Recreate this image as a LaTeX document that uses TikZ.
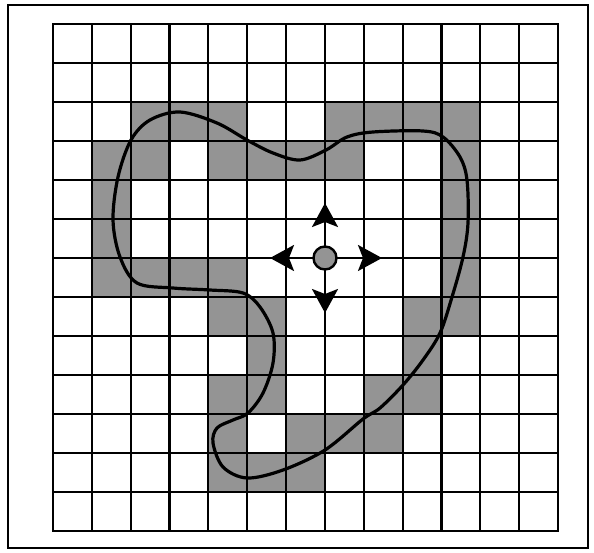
\documentclass[tikz,border=0pt]{standalone}
\usetikzlibrary{arrows.meta}
\definecolor{shadegray}{gray}{0.58}
\begin{document}
\begin{tikzpicture}[x=1pt,y=-1pt,
  gridline/.style={line width=2.2pt,black,line cap=rect},
  cell/.style={fill=shadegray},
  curve/.style={line width=3.2pt,black},
  move/.style={line width=2.4pt,-{Stealth[length=24pt,width=26pt,inset=5pt]}},
  agent/.style={circle,draw,line width=2.4pt,fill=shadegray,minimum size=23pt,inner sep=0pt}]
\useasboundingbox (0,0) rectangle (594,552);
\draw[line width=1.6pt] (8,5) rectangle (588,548);
\begin{scope}[shift={(53,24)},x=38.846pt,y=-39pt]
  \foreach \c/\r in {2/2,3/2,4/2,7/2,8/2,9/2,10/2,
                     1/3,2/3,4/3,5/3,6/3,7/3,10/3,
                     1/4,10/4,1/5,10/5,
                     1/6,2/6,3/6,4/6,10/6,
                     4/7,5/7,9/7,10/7,
                     5/8,9/8,
                     4/9,5/9,8/9,9/9,
                     4/10,6/10,7/10,8/10,
                     4/11,5/11,6/11}
    \fill[cell] (\c,\r) rectangle ++(1,1);
  \foreach \i in {0,...,13} {
    \draw[gridline] (\i,0) -- (\i,13);
    \draw[gridline] (0,\i) -- (13,\i);
  }
\end{scope}
\draw[curve] plot[smooth cycle, tension=0.55] coordinates {
  (180,112) (217,123) (247,140) (273,153) (300,160) (326,150) (347,137)
  (373,132) (423,131) (443,137) (460,157) (467,180) (468,223) (463,257)
  (452,297) (440,333) (423,360) (403,385) (380,408) (363,419) (325,450)
  (283,470) (247,478) (223,467) (213,443) (217,428) (233,420) (248,413)
  (263,393) (273,363) (273,333) (260,307) (243,293) (210,290) (173,288)
  (137,283) (120,257) (113,220) (118,177) (131,140) (150,120)};
\node[agent] (a) at (325,258) {};
\coordinate (up) at (325,203);
\coordinate (dn) at (325,313);
\coordinate (lf) at (270,258);
\coordinate (rt) at (382,258);
\draw[move] (a) -- (up);
\draw[move] (a) -- (dn);
\draw[move] (a) -- (lf);
\draw[move] (a) -- (rt);
\end{tikzpicture}
\end{document}
